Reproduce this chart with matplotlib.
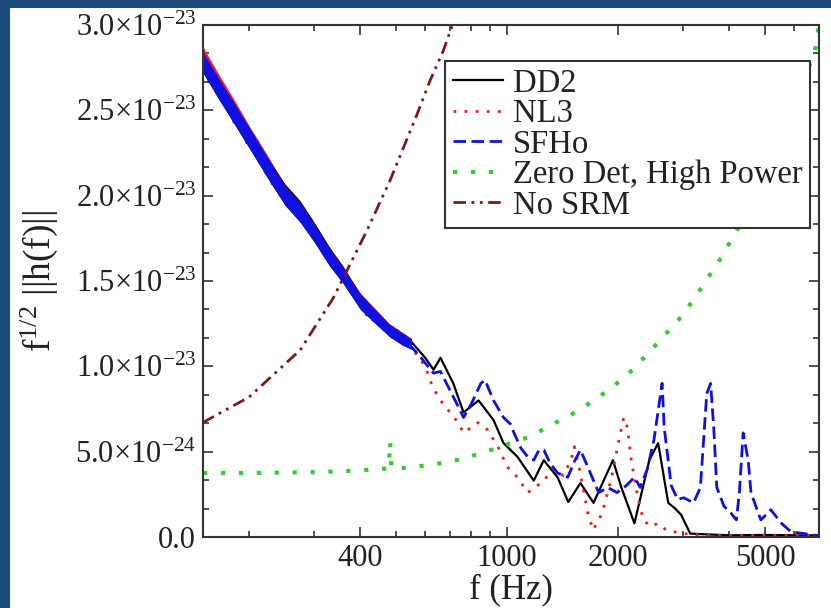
import numpy as np
import matplotlib
matplotlib.use("Agg")
import matplotlib.pyplot as plt
from matplotlib.patches import Rectangle
from matplotlib.ticker import FixedLocator, FuncFormatter, NullFormatter

plt.rcParams['font.family'] = ['Liberation Serif', 'DejaVu Serif']
plt.rcParams['mathtext.fontset'] = 'custom'
plt.rcParams['mathtext.rm'] = 'Liberation Serif'
plt.rcParams['mathtext.it'] = 'Liberation Serif:italic'
plt.rcParams['mathtext.bf'] = 'Liberation Serif:bold'

SCALE = 1e-23  # all amplitudes below are in units of 1e-23

# ---- DD2 (solid black) ----
dd2_f = [150, 156, 162, 168, 175, 182, 189, 197, 205, 213, 222, 231, 240, 250, 260, 270,
         281, 292, 304, 316, 329, 342, 356, 370, 385, 400, 416, 433, 450, 468, 487, 506,
         527, 547, 600, 632, 660, 715, 762, 837, 919, 978, 1067, 1181, 1257, 1370, 1465,
         1580, 1715, 1935, 2040, 2213, 2428, 2566, 2733, 2843, 2962, 3135, 3500, 4000,
         5000, 6000, 7000]
dd2_v = [2.74, 2.76, 2.62, 2.65, 2.50, 2.52, 2.39, 2.40, 2.26, 2.28, 2.13, 2.15, 2.02, 2.04,
         1.93, 1.96, 1.84, 1.85, 1.73, 1.74, 1.62, 1.62, 1.51, 1.52, 1.41, 1.41, 1.30, 1.33,
         1.24, 1.26, 1.17, 1.21, 1.14, 1.15, 1.05, 0.98, 1.05, 0.90, 0.73, 0.80, 0.685, 0.55,
         0.47, 0.33, 0.45, 0.35, 0.205, 0.316, 0.20, 0.45, 0.29, 0.08, 0.45, 0.55, 0.20, 0.17,
         0.13, 0.02, 0.015, 0.01, 0.012, 0.01, 0.01]

# ---- NL3 (red dotted) ----
nl3_f = [150, 156, 162, 168, 175, 182, 189, 197, 205, 213, 222, 231, 240, 250, 260, 270,
         281, 292, 304, 316, 329, 342, 356, 370, 385, 400, 416, 433, 450, 468, 487, 506,
         527, 547, 600, 628, 660, 731, 762, 833, 883, 944, 1001, 1067, 1137, 1190, 1257,
         1335, 1420, 1490, 1520, 1570, 1655, 1710, 1790, 1830, 1920, 2010, 2070, 2120, 2170,
         2265, 2340, 2450, 2560, 2700, 3000, 3500, 4000, 5000, 6000, 7000]
nl3_v = [2.86, 2.72, 2.73, 2.61, 2.60, 2.48, 2.49, 2.36, 2.36, 2.24, 2.23, 2.11, 2.12, 2.00,
         2.01, 1.92, 1.92, 1.82, 1.80, 1.71, 1.69, 1.59, 1.58, 1.48, 1.47, 1.37, 1.36, 1.28,
         1.28, 1.21, 1.21, 1.15, 1.15, 1.12, 1.00, 0.88, 0.80, 0.68, 0.61, 0.67, 0.63, 0.53,
         0.41, 0.35, 0.26, 0.29, 0.33, 0.40, 0.36, 0.45, 0.53, 0.40, 0.14, 0.04, 0.12, 0.18,
         0.35, 0.57, 0.70, 0.64, 0.45, 0.22, 0.10, 0.06, 0.08, 0.04, 0.02, 0.01, 0.01, 0.01,
         0.01, 0.01]

# ---- SFHo (blue dashed) ----
sfho_f = [150, 156, 162, 168, 175, 182, 189, 197, 205, 213, 222, 231, 240, 250, 260, 270,
          281, 292, 304, 316, 329, 342, 356, 370, 385, 400, 416, 433, 450, 468, 487, 506,
          527, 547, 580, 610, 632, 660, 700, 747, 762, 800, 849, 871, 919, 978, 1023, 1044,
          1090, 1137, 1181, 1220, 1257, 1310, 1370, 1460, 1520, 1580, 1655, 1770, 1875, 1985,
          2100, 2213, 2295, 2400, 2500, 2630, 2665, 2785, 2900, 3010, 3200, 3340, 3475, 3560,
          3630, 3700, 3870, 4040, 4180, 4260, 4360, 4500, 4580, 4720, 4870, 5080, 5180, 5540,
          5880, 6380, 6830, 7000]
sfho_v = [2.83, 2.67, 2.71, 2.56, 2.59, 2.43, 2.47, 2.31, 2.34, 2.20, 2.21, 2.07, 2.10, 1.96,
          1.99, 1.88, 1.90, 1.79, 1.79, 1.68, 1.68, 1.56, 1.57, 1.46, 1.47, 1.35, 1.36, 1.27,
          1.30, 1.20, 1.23, 1.15, 1.18, 1.12, 1.06, 1.00, 0.96, 0.97, 0.86, 0.74, 0.70, 0.78,
          0.90, 0.92, 0.80, 0.70, 0.66, 0.61, 0.52, 0.47, 0.45, 0.51, 0.51, 0.43, 0.375, 0.35,
          0.44, 0.51, 0.41, 0.26, 0.29, 0.26, 0.30, 0.35, 0.29, 0.40, 0.57, 0.90, 0.64, 0.30,
          0.22, 0.23, 0.20, 0.29, 0.84, 0.90, 0.64, 0.29, 0.18, 0.14, 0.10, 0.26, 0.61, 0.45,
          0.26, 0.18, 0.10, 0.14, 0.16, 0.08, 0.03, 0.02, 0.01, 0.01]

# ---- envelopes of the fast low-frequency oscillation (thick band below ~550 Hz) ----
band_f = [150, 165, 180, 200, 225, 250, 275, 300, 330, 360, 400, 440, 480, 520, 550]
nl3_band_hi = [2.87, 2.715, 2.58, 2.41, 2.23, 2.065, 1.965, 1.84, 1.695, 1.58, 1.43, 1.335, 1.25, 1.20, 1.165]
nl3_band_lo = [2.74, 2.59, 2.46, 2.30, 2.12, 1.965, 1.865, 1.75, 1.61, 1.505, 1.355, 1.27, 1.195, 1.145, 1.12]
dd2_band_hi = [2.83, 2.68, 2.55, 2.39, 2.215, 2.07, 1.97, 1.845, 1.70, 1.585, 1.42, 1.33, 1.245, 1.19, 1.16]
dd2_band_lo = [2.72, 2.57, 2.44, 2.28, 2.10, 1.945, 1.845, 1.73, 1.59, 1.485, 1.335, 1.25, 1.175, 1.125, 1.10]
sfho_band_hi = [2.84, 2.69, 2.56, 2.40, 2.22, 2.055, 1.955, 1.83, 1.69, 1.575, 1.425, 1.33, 1.245, 1.195, 1.16]
sfho_band_lo = [2.72, 2.57, 2.44, 2.28, 2.10, 1.945, 1.845, 1.73, 1.59, 1.485, 1.335, 1.25, 1.175, 1.125, 1.10]

# ---- Zero Det, High Power (green dotted) ----
zdhp_f = [150, 200, 300, 400, 460, 478, 482, 486, 500, 560, 700, 850, 1023, 1160, 1275,
          1410, 1530, 1690, 1850, 2010, 2190, 2566, 2962, 3200, 3810, 4250, 4680, 5450,
          5880, 6380, 6830, 7000]
zdhp_v = [0.375, 0.375, 0.38, 0.39, 0.40, 0.40, 0.56, 0.40, 0.40, 0.41, 0.44, 0.49, 0.55,
          0.59, 0.64, 0.69, 0.73, 0.79, 0.85, 0.91, 0.98, 1.14, 1.29, 1.39, 1.64, 1.82, 2.01,
          2.28, 2.48, 2.68, 2.85, 3.0]

# ---- No SRM (maroon dash-dot-dot) ----
nosrm_f = [150, 154, 200, 275, 338, 418, 482, 571, 620, 672, 711, 730]
nosrm_v = [0.67, 0.685, 0.82, 1.095, 1.40, 1.80, 2.09, 2.48, 2.68, 2.85, 3.0, 3.08]

C_DD2, C_NL3, C_SFHO, C_ZD, C_NS = 'black', '#ee1c1c', '#1010e0', '#33cc33', '#7a1a1a'

series = [
    ("DD2", dd2_f, dd2_v, dict(color=C_DD2, lw=1.6, ls='-', zorder=1.9)),
    ("NL3", nl3_f, nl3_v, dict(color=C_NL3, lw=2.0, ls=(0, (1, 3)), zorder=1.95)),
    ("SFHo", sfho_f, sfho_v, dict(color=C_SFHO, lw=2.0, ls=(0, (4.5, 2)), zorder=2.4)),
    ("Zero Det, High Power", zdhp_f, zdhp_v, dict(color=C_ZD, lw=3.0, ls=(0, (1, 3.3)), zorder=2.5)),
    ("No SRM", nosrm_f, nosrm_v, dict(color=C_NS, lw=2.0, ls=(0, (4.5, 2, 1, 2, 1, 2)), zorder=2.6)),
]
bands = [
    (nl3_band_lo, nl3_band_hi, C_NL3, 2.0),
    (dd2_band_lo, dd2_band_hi, '#2a1010', 2.1),
    (sfho_band_lo, sfho_band_hi, C_SFHO, 2.2),
]

y_major = [0.0, 0.5, 1.0, 1.5, 2.0, 2.5, 3.0]
x_major = [400, 1000, 2000, 5000]
x_minor = [200, 300, 500, 600, 700, 800, 900, 3000, 4000, 6000, 7000]

W, H = 831, 608
fig = plt.figure(figsize=(W / 100, H / 100), dpi=100)
fig.patch.set_facecolor('#1f4a7e')
fig.patches.append(Rectangle((10 / W, 0), (W - 10) / W, (H - 8) / H, transform=fig.transFigure,
                             facecolor='white', edgecolor='none', zorder=-10))
ax = fig.add_axes([203 / W, (H - 537) / H, 616 / W, 512 / H])
ax.set_zorder(1)

for lo, hi, c, z in bands:
    ax.fill_between(band_f, np.array(lo) * SCALE, np.array(hi) * SCALE, color=c,
                    linewidth=0, zorder=z)

for name, f, v, st in series:
    ax.plot(f, np.array(v) * SCALE, label=name, **st)

ax.set_xscale('log')
ax.set_xlim(150, 7000)
ax.set_ylim(0, 3.0e-23)

ax.xaxis.set_major_locator(FixedLocator(x_major))
ax.xaxis.set_major_formatter(FuncFormatter(lambda v, p: "%d" % round(v)))
ax.xaxis.set_minor_locator(FixedLocator(x_minor))
ax.xaxis.set_minor_formatter(NullFormatter())

ax.yaxis.set_major_locator(FixedLocator([y * SCALE for y in y_major]))
y_minor = [(i / 6.0) * SCALE for i in range(0, 19) if i % 3 != 0]
ax.yaxis.set_minor_locator(FixedLocator(y_minor))


def yfmt(v, pos):
    if abs(v) < 1e-30:
        return "0.0"
    e = int(np.floor(np.log10(v) + 1e-9))
    m = v / 10.0 ** e
    return "%.1f\u00d710$^{%d}$" % (m, e)


ax.yaxis.set_major_formatter(FuncFormatter(yfmt))

for s in ax.spines.values():
    s.set_color('#333333')
    s.set_linewidth(1.5)
    s.set_zorder(3)
ax.tick_params(which='both', direction='in', top=True, right=True, colors='#333333',
               labelcolor='#222222', width=1.2)
ax.tick_params(which='major', length=7, labelsize=22)
ax.tick_params(axis='x', which='major', pad=5)
ax.tick_params(axis='y', which='major', pad=5)
ax.tick_params(which='minor', length=4)

ax.set_xlabel("f (Hz)", fontsize=25, color='#222222', labelpad=0)
ax.set_ylabel("f$^{1/2}$ ||h(f)||", fontsize=27, color='#222222')
ax.yaxis.set_label_coords(-0.232, 0.5)

leg = ax.legend(loc='upper right', bbox_to_anchor=(0.985, 0.93), fontsize=23.5, frameon=True,
                fancybox=False, edgecolor='#333333', framealpha=1, handlelength=1.55,
                handletextpad=0.3, labelspacing=0.0, borderpad=0.22, borderaxespad=0)
leg.get_frame().set_linewidth(1.5)
leg.set_zorder(5)
for t in leg.get_texts():
    t.set_color('#222222')

fig.savefig("out.png", dpi=100, facecolor=fig.get_facecolor())
